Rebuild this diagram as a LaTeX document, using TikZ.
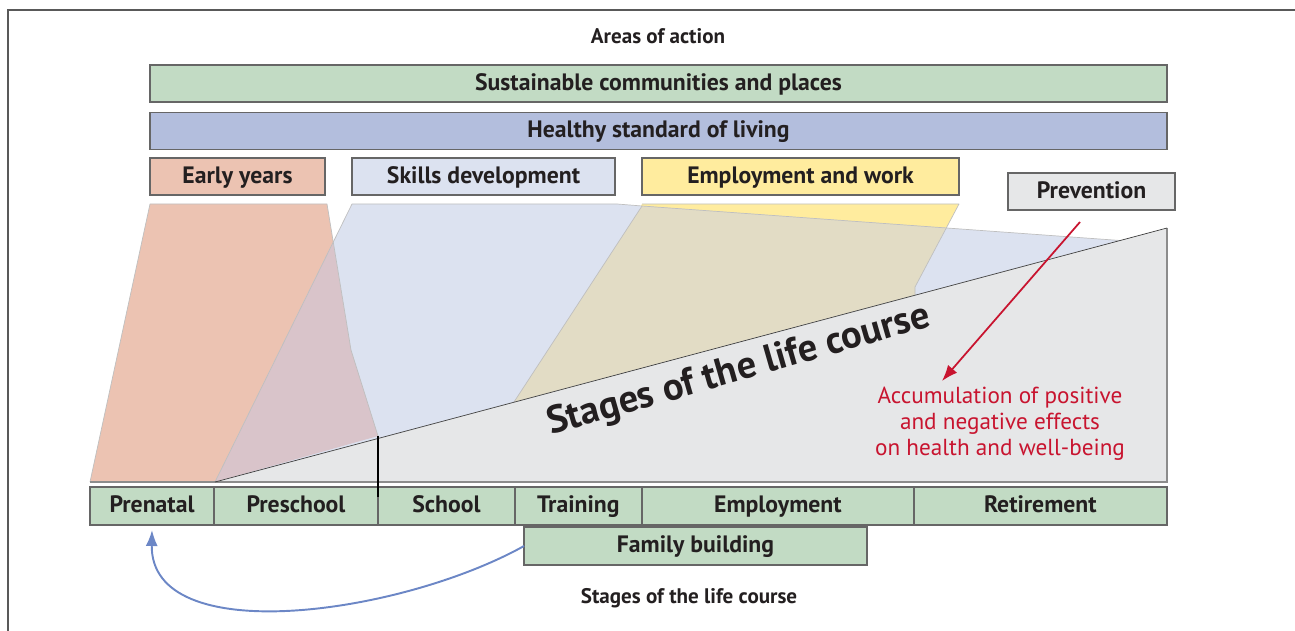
\documentclass[tikz,border=0pt]{standalone}
\usepackage{fontspec}
\setmainfont{PT Sans}
\usetikzlibrary{positioning,arrows.meta}

\definecolor{areagreen}{HTML}{C2DBC4}
\definecolor{livingblue}{HTML}{B3BEDD}
\definecolor{earlysalmon}{HTML}{ECC3B2}
\definecolor{skillsblue}{HTML}{DCE2F0}
\definecolor{workyellow}{HTML}{FFEC9E}
\definecolor{prevgray}{HTML}{E6E7E8}
\definecolor{mixmauve}{HTML}{D9C4CA}
\definecolor{mixbeige}{HTML}{E2DCC5}
\definecolor{accred}{HTML}{C8142F}
\definecolor{loopblue}{HTML}{6C87C6}
\definecolor{inkdark}{HTML}{231F20}

\begin{document}
\begin{tikzpicture}[x=0.02cm,y=-0.02cm,
    bar/.style={
      % The shape:
      rectangle,minimum height=0.74cm,inner sep=0pt,outer sep=0pt,
      text height=0.86em,text depth=0.1em,
      % The rest
      draw=black!60,line width=0.8pt,text=inkdark,
      font=\fontsize{13.5}{16}\selectfont\bfseries},
    stage/.style={bar,fill=areagreen,minimum height=0.76cm},
    patch/.style={draw=black!25,line width=0.4pt,line join=round},
    caption/.style={text=inkdark,font=\fontsize{12}{14}\selectfont\bfseries}]
  \useasboundingbox (0,0) rectangle (1295,631);
  \draw[black!65,line width=1.1pt] (1295,10) -- (8,10) -- (8,631);

  % areas of action
  \node[caption] (areas) at (658,36) {Areas of action};
  \node[bar,fill=areagreen,minimum width=20.34cm] (sust) at (658.5,83.5) {Sustainable communities and places};
  \node[bar,fill=livingblue,minimum width=20.34cm] (living) at (658.5,131) {Healthy standard of living};
  \node[bar,fill=earlysalmon,minimum width=3.5cm] (early) at (237.5,176.5) {Early years};
  \node[bar,fill=skillsblue,minimum width=5.26cm] (skills) at (483.5,176.5) {Skills development};
  \node[bar,fill=workyellow,minimum width=6.34cm] (work) at (800.5,176.5) {Employment and work};
  \node[bar,fill=prevgray,minimum width=3.34cm] (prev) at (1091.5,191.5) {Prevention};

  % fans of the areas
  \fill[earlysalmon] (90,482) -- (150,204) -- (327,204) -- (351,350) -- (378,436) -- (215,482) -- cycle;
  \fill[workyellow] (642,204) -- (959,204) -- (915,287) -- (915,295) -- (514,402) -- cycle;
  \fill[skillsblue] (215,482) -- (352,204) -- (617,204) -- (642,206) -- (1120,240.5) -- cycle;
  \fill[mixmauve] (333,242) -- (351,350) -- (378,436) -- (215,482) -- cycle;
  \fill[mixbeige] (642,206) -- (946,228) -- (915,287) -- (915,295) -- (514,402) -- cycle;
  \draw[patch] (90,482) -- (150,204) -- (327,204) -- (351,350) -- (378,436);
  \draw[patch] (642,204) -- (959,204) -- (915,287) -- (915,295);
  \draw[patch] (514,402) -- (642,206);
  \draw[patch] (215,482) -- (352,204) -- (617,204) -- (642,206) -- (1120,240.5);

  % life course wedge
  \fill[prevgray] (215,482) -- (1167,228) -- (1167,482) -- cycle;
  \draw[black!45,line width=0.6pt] (1167,228) -- (1167,482) -- (90,482);
  \draw[black!75,line width=0.4pt] (215,482) -- (1167,228);
  \node[text=inkdark,rotate=16,font=\fontsize{22}{26}\selectfont\bfseries] (wedge) at (739,371) {Stages of the life course};
  \node[text=accred,align=center,font=\fontsize{13.2}{14.8}\selectfont] (accum) at (1000,424) {Accumulation of positive\\and negative effects\\on health and well-being};
  \coordinate (prevtail) at (1080,222);
  \coordinate (accumtip) at (942,381);
  \draw[accred,line width=1pt,-{Latex[length=3.2mm,width=2.4mm]}] (prevtail) -- (accumtip);

  % stages of the life course
  \node[stage,minimum width=2.48cm] (pren) at (152,506) {Prenatal};
  \node[stage,minimum width=3.28cm,right=0pt of pren] (presch) {Preschool};
  \node[stage,minimum width=2.74cm,right=0pt of presch] (school) {School};
  \node[stage,minimum width=2.54cm,right=0pt of school] (train) {Training};
  \node[stage,minimum width=5.44cm,right=0pt of train] (employ) {Employment};
  \node[stage,minimum width=5.06cm,right=0pt of employ] (retire) {Retirement};
  \node[stage,minimum width=6.86cm] (family) at (695.5,546) {Family building};
  \draw[black,line width=0.6pt] (378,436) -- (378,497);
  \draw[loopblue,line width=1.1pt,-{Latex[length=3.2mm,width=2.4mm]}] (family.west) .. controls (400,615) and (150,650) .. ([yshift=-0.1cm]pren.south);
  \node[caption] (stages) at (689,598) {Stages of the life course};
\end{tikzpicture}
\end{document}
